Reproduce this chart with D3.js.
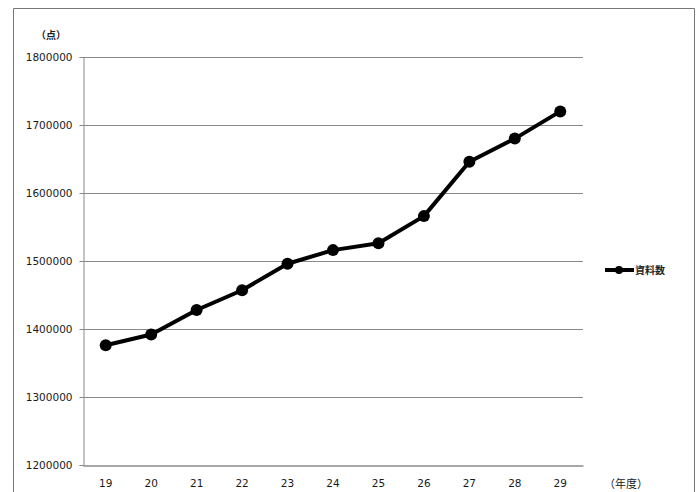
<!DOCTYPE html>
<html>
<head>
<meta charset="utf-8">
<script src="https://cdn.jsdelivr.net/npm/d3@7"></script>
<style>
  html, body { margin: 0; padding: 0; background: #fff; }
  svg { display: block; }
</style>
</head>
<body>
<script>
// 年度別の資料数
const years = ["19", "20", "21", "22", "23", "24", "25", "26", "27", "28", "29"];
const counts = [1376000, 1392000, 1428000, 1457000, 1496000, 1516000, 1526000, 1566000, 1646000, 1680000, 1720000];
const yTicks = [1200000, 1300000, 1400000, 1500000, 1600000, 1700000, 1800000];
const seriesName = "資料数";

const W = 696, H = 492;
const svg = d3.select("body").append("svg").attr("width", W).attr("height", H);

const cjkFont = "'Noto Sans CJK JP', sans-serif";
const numFont = "'DejaVu Sans', sans-serif";

// outer frame
svg.append("path")
  .attr("d", `M13.5,${H} V8.5 H694.5 V${H}`)
  .attr("fill", "none").attr("stroke", "#777").attr("stroke-width", 1);

const plot = { left: 83, right: 583, top: 57, bottom: 465 };

const x = d3.scaleBand().domain(years).range([plot.left, plot.right]);
const y = d3.scaleLinear().domain([1200000, 1800000]).range([plot.bottom, plot.top]);

// horizontal gridlines
svg.append("g").selectAll("line").data(yTicks.slice(1)).join("line")
  .attr("x1", plot.left).attr("x2", plot.right)
  .attr("y1", d => Math.round(y(d)) + 0.5).attr("y2", d => Math.round(y(d)) + 0.5)
  .attr("stroke", "#8a8a8a").attr("stroke-width", 1);

// y axis
const yAxis = svg.append("g")
  .attr("transform", `translate(${plot.left + 0.5},0)`)
  .call(d3.axisLeft(y).tickValues(yTicks).tickFormat(d3.format("d")).tickSize(4).tickPadding(7));
yAxis.select(".domain").attr("stroke", "#8a8a8a");
yAxis.selectAll(".tick line").attr("stroke", "#8a8a8a");
yAxis.selectAll("text").style("font-size", "10.5px").style("font-family", numFont).attr("fill", "#1a1a1a");

// x axis
const xAxis = svg.append("g")
  .attr("transform", `translate(0,${Math.round(plot.bottom) + 0.5})`)
  .call(d3.axisBottom(x).tickSize(0).tickPadding(14));
xAxis.select(".domain").attr("stroke", "#8a8a8a").attr("stroke-width", 1.5);
xAxis.selectAll("text").style("font-size", "10.5px").style("font-family", numFont).attr("fill", "#1a1a1a");

// unit labels
svg.append("text").attr("x", 36).attr("y", 39)
  .style("font-size", "10px").style("font-weight", "bold").style("font-family", cjkFont)
  .attr("fill", "#222").text("（点）");
svg.append("text").attr("x", 604).attr("y", 488)
  .style("font-size", "11px").style("font-family", cjkFont)
  .attr("fill", "#222").text("（年度）");

// series line
const data = years.map((yr, i) => ({ yr, v: counts[i] }));
const line = d3.line().x(d => x(d.yr) + x.bandwidth() / 2).y(d => y(d.v));
svg.append("path").datum(data)
  .attr("d", line).attr("fill", "none")
  .attr("stroke", "#000").attr("stroke-width", 4).attr("stroke-linejoin", "round");

svg.append("g").selectAll("circle").data(data).join("circle")
  .attr("cx", d => x(d.yr) + x.bandwidth() / 2)
  .attr("cy", d => y(d.v))
  .attr("r", 6).attr("fill", "#000");

// legend
const lg = svg.append("g").attr("transform", "translate(605,270)");
lg.append("line").attr("x1", 0).attr("x2", 29).attr("y1", 0).attr("y2", 0)
  .attr("stroke", "#000").attr("stroke-width", 4);
lg.append("circle").attr("cx", 14).attr("cy", 0).attr("r", 4).attr("fill", "#000");
lg.append("text").attr("x", 30).attr("y", 4)
  .style("font-size", "10px").style("font-weight", "bold").style("font-family", cjkFont)
  .attr("fill", "#222").text(seriesName);
</script>
</body>
</html>
